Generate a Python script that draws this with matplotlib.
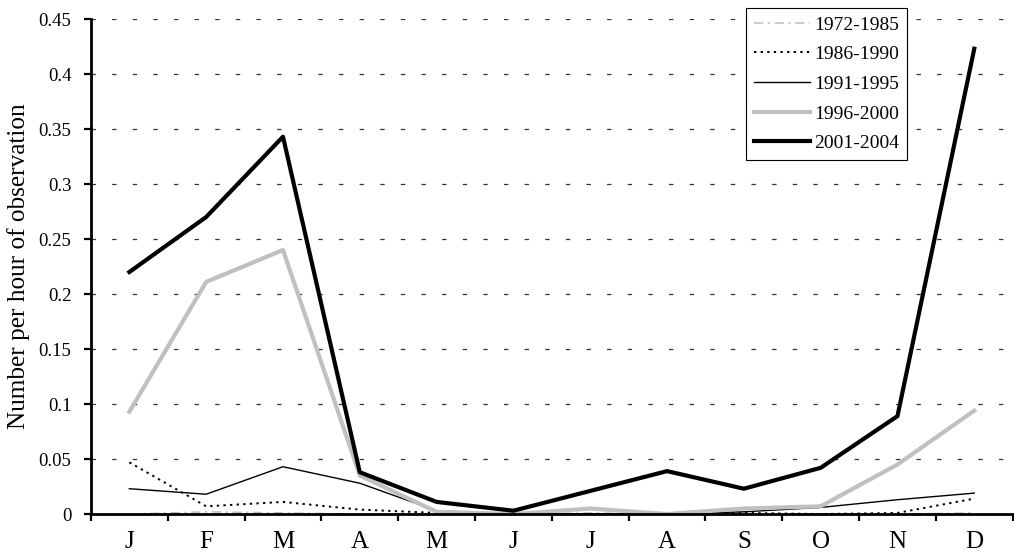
import numpy as np
import matplotlib
matplotlib.use("Agg")
import matplotlib.pyplot as plt

# month initials on the x axis
months = ["J", "F", "M", "A", "M", "J", "J", "A", "S", "O", "N", "D"]

# sightings per hour of observation
p1972_1985 = [0.000, 0.002, 0.001, 0.000, 0.000, 0.000, 0.001, 0.000, 0.000, 0.000, 0.000, 0.001]
p1986_1990 = [0.047, 0.007, 0.011, 0.004, 0.001, 0.000, 0.000, 0.000, 0.001, 0.000, 0.001, 0.014]
p1991_1995 = [0.023, 0.018, 0.043, 0.028, 0.003, 0.000, 0.000, 0.000, 0.002, 0.006, 0.013, 0.019]
p1996_2000 = [0.093, 0.211, 0.240, 0.035, 0.002, 0.000, 0.005, 0.000, 0.005, 0.007, 0.045, 0.094]
p2001_2004 = [0.220, 0.270, 0.343, 0.038, 0.011, 0.003, 0.021, 0.039, 0.023, 0.042, 0.089, 0.423]

plt.rcParams['font.family'] = ['Liberation Serif', 'DejaVu Serif']

fig = plt.figure(figsize=(10.14, 5.56), dpi=100)
ax = fig.add_axes([0.0897, 0.0755, 0.909, 0.8903])

x = np.arange(len(months))
ax.plot(x, p1972_1985, color='#bdbdbd', lw=1.1, ls=(0, (6, 3, 1.5, 3)), label='1972-1985')
ax.plot(x, p1986_1990, color='black', lw=1.4, ls=(0, (1.2, 2.2)), label='1986-1990')
ax.plot(x, p1991_1995, color='black', lw=1.0, label='1991-1995')
ax.plot(x, p1996_2000, color='#c0c0c0', lw=3.0, label='1996-2000')
ax.plot(x, p2001_2004, color='black', lw=3.0, label='2001-2004')

ax.set_xlim(-0.5, len(months) - 0.5)
ax.set_ylim(0, 0.45)

# y axis
yt = np.arange(0, 0.451, 0.05)
ax.set_yticks(yt)
ax.set_yticklabels(['0'] + ['%g' % round(v, 2) for v in yt[1:]], fontsize=13.5)
ax.yaxis.grid(True, color='#333333', lw=0.9, ls=(0, (3.5, 13)))
ax.set_ylabel('Number per hour of observation', fontsize=18.2)
ax.yaxis.set_label_coords(-0.066, 0.5)

# x axis: ticks between months, labels at centres
ax.set_xticks(np.arange(-0.5, len(months), 1.0))
ax.set_xticklabels([])
ax.set_xticks(x, minor=True)
ax.set_xticklabels(months, minor=True, fontsize=18)
ax.tick_params(axis='x', which='minor', length=0, pad=12)
ax.tick_params(axis='x', which='major', direction='out', length=5, width=1.6)
ax.tick_params(axis='y', direction='out', length=5, width=1.6, pad=9)

for s in ['top', 'right']:
    ax.spines[s].set_visible(False)
for s in ['left', 'bottom']:
    ax.spines[s].set_linewidth(2)

leg = ax.legend(loc='upper left', bbox_to_anchor=(0.7107, 1.022), fontsize=14,
                frameon=True, fancybox=False, edgecolor='black', framealpha=1,
                handlelength=2.9, handletextpad=0.2, labelspacing=0.62,
                borderpad=0.4, borderaxespad=0)
leg.get_frame().set_linewidth(0.8)

fig.savefig('out.png', dpi=100)
